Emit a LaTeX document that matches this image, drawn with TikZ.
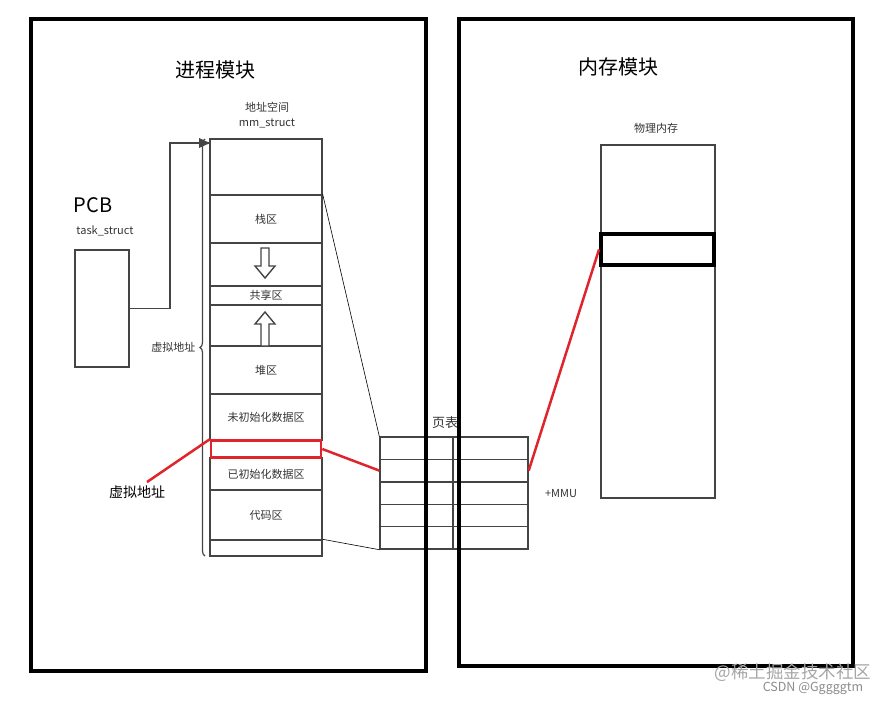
\documentclass[tikz,border=0pt]{standalone}
\usepackage{fontspec}
\setmainfont{Noto Sans CJK SC}
\usetikzlibrary{decorations.pathreplacing}
\definecolor{edge}{HTML}{444444}
\definecolor{labelgray}{HTML}{333333}
\definecolor{hired}{HTML}{E0242B}
\begin{document}
\begin{tikzpicture}[x=1pt, y=-1pt, font=\fontsize{11}{13}\selectfont]
        \tikzset{cell/.style={draw=edge, line width=1.4pt, minimum width=112pt, inner sep=0pt, text=labelgray},
                 ptrow/.style={draw=edge, line width=1.4pt, minimum width=148pt, minimum height=22.4pt, inner sep=0pt},
                 frame/.style={draw=black, line width=4pt},
                 redline/.style={draw=hired, line width=2.5pt},
                 thinline/.style={draw=black, line width=0.6pt},
                 title/.style={font=\fontsize{20}{24}\selectfont},
                 small/.style={text=labelgray, font=\fontsize{11}{13}\selectfont},
                 growarrow/.style={draw=edge, line width=1.4pt, fill=white}}
        \useasboundingbox (0,0) rectangle (894,704);
        % process side
        \node[title] (proc) at (215,70) {进程模块};
        \node[small] (aspace) at (267,107) {地址空间};
        \node[small] (mmstruct) at (267,123) {mm\_struct};
        \node[cell, minimum height=56pt] (topcell) at (266,167) {};
        \node[cell, minimum height=48pt] (stack) at (266,219) {栈区};
        \node[cell, minimum height=43pt] (down) at (266,264.5) {};
        \node[cell, minimum height=19pt] (share) at (266,295.5) {共享区};
        \node[cell, minimum height=41pt] (up) at (266,325.5) {};
        \node[cell, minimum height=48pt] (heap) at (266,370) {堆区};
        \node[cell, minimum height=46pt] (bss) at (266,417) {未初始化数据区};
        \node[cell, minimum height=32pt] (data) at (266,474) {已初始化数据区};
        \node[cell, minimum height=50pt] (code) at (266,515) {代码区};
        \node[cell, minimum height=16pt] (bottomcell) at (266,548) {};
        \node[draw=hired, line width=2.5pt, minimum width=110pt, minimum height=17pt] (vaddr) at (266,449) {};
        \draw[growarrow] (261,248) -- ++(8,0) -- ++(0,18) -- ++(6,0) -- ++(-10,12) -- ++(-10,-12) -- ++(6,0) -- cycle;
        \draw[growarrow] (261,346) -- ++(8,0) -- ++(0,-22) -- ++(6,0) -- ++(-10,-12) -- ++(-10,12) -- ++(6,0) -- cycle;
        \draw[edge, line width=1.2pt, decorate, decoration={brace, amplitude=5pt}] (205,556) -- (205,139);
        \node[small, anchor=east] (vspace) at (199,347) {虚拟地址};
        % PCB
        \node[title] (pcbtitle) at (93,205) {PCB};
        \node[small] (taskstruct) at (105,231) {task\_struct};
        \node[draw=edge, line width=1.4pt, minimum width=54pt, minimum height=117pt] (pcb) at (102,308.5) {};
        \coordinate (bend) at (170,308.5);
        \coordinate (entry) at (210,143);
        \draw[edge, line width=1.6pt] (pcb.east) -- (bend) |- (entry);
        \fill[edge] (entry) -- ++(-11,-5) -- ++(0,10) -- cycle;
        \node[font=\fontsize{14}{17}\selectfont] (vlabel) at (137,492) {虚拟地址};
        \draw[redline] (vlabel.45) -- (vaddr.north west);
        % page table
        \node[small, font=\fontsize{13}{15}\selectfont] (pttitle) at (445,423) {页表};
        \foreach \i in {1,...,5}
            \node[ptrow] (pt\i) at (454,437+22.4*\i-11.2) {};
        \draw[edge, line width=1.4pt] (453,437) -- (453,549);
        \draw[thinline] (stack.north east) -- (pt1.north west);
        \draw[thinline] (bottomcell.north east) -- (pt5.south west);
        \draw[redline] (vaddr.east) -- (pt2.west);
        \node[small] (mmu) at (561,494) {+MMU};
        % memory side
        \node[title] (memtitle) at (618,67) {内存模块};
        \node[small] (physmem) at (656,128) {物理内存};
        \node[draw=edge, line width=1.4pt, minimum width=114pt, minimum height=353pt] (mem) at (658,321.5) {};
        \node[draw=black, line width=4pt, minimum width=113pt, minimum height=31pt] (pframe) at (657.5,249.5) {};
        \draw[redline] (pt2.east) -- (pframe.west);
        % module frames
        \draw[frame] (31,19) rectangle (426,671);
        \draw[frame] (459,19) rectangle (853,666);
        % watermark
        \node[text=gray!70, font=\fontsize{17.5}{19}\selectfont] (mark1) at (793,673) {@稀土掘金技术社区};
        \node[text=gray!90, font=\fontsize{12.5}{14}\selectfont] (mark2) at (813,688) {CSDN @Gggggtm};
\end{tikzpicture}
\end{document}
